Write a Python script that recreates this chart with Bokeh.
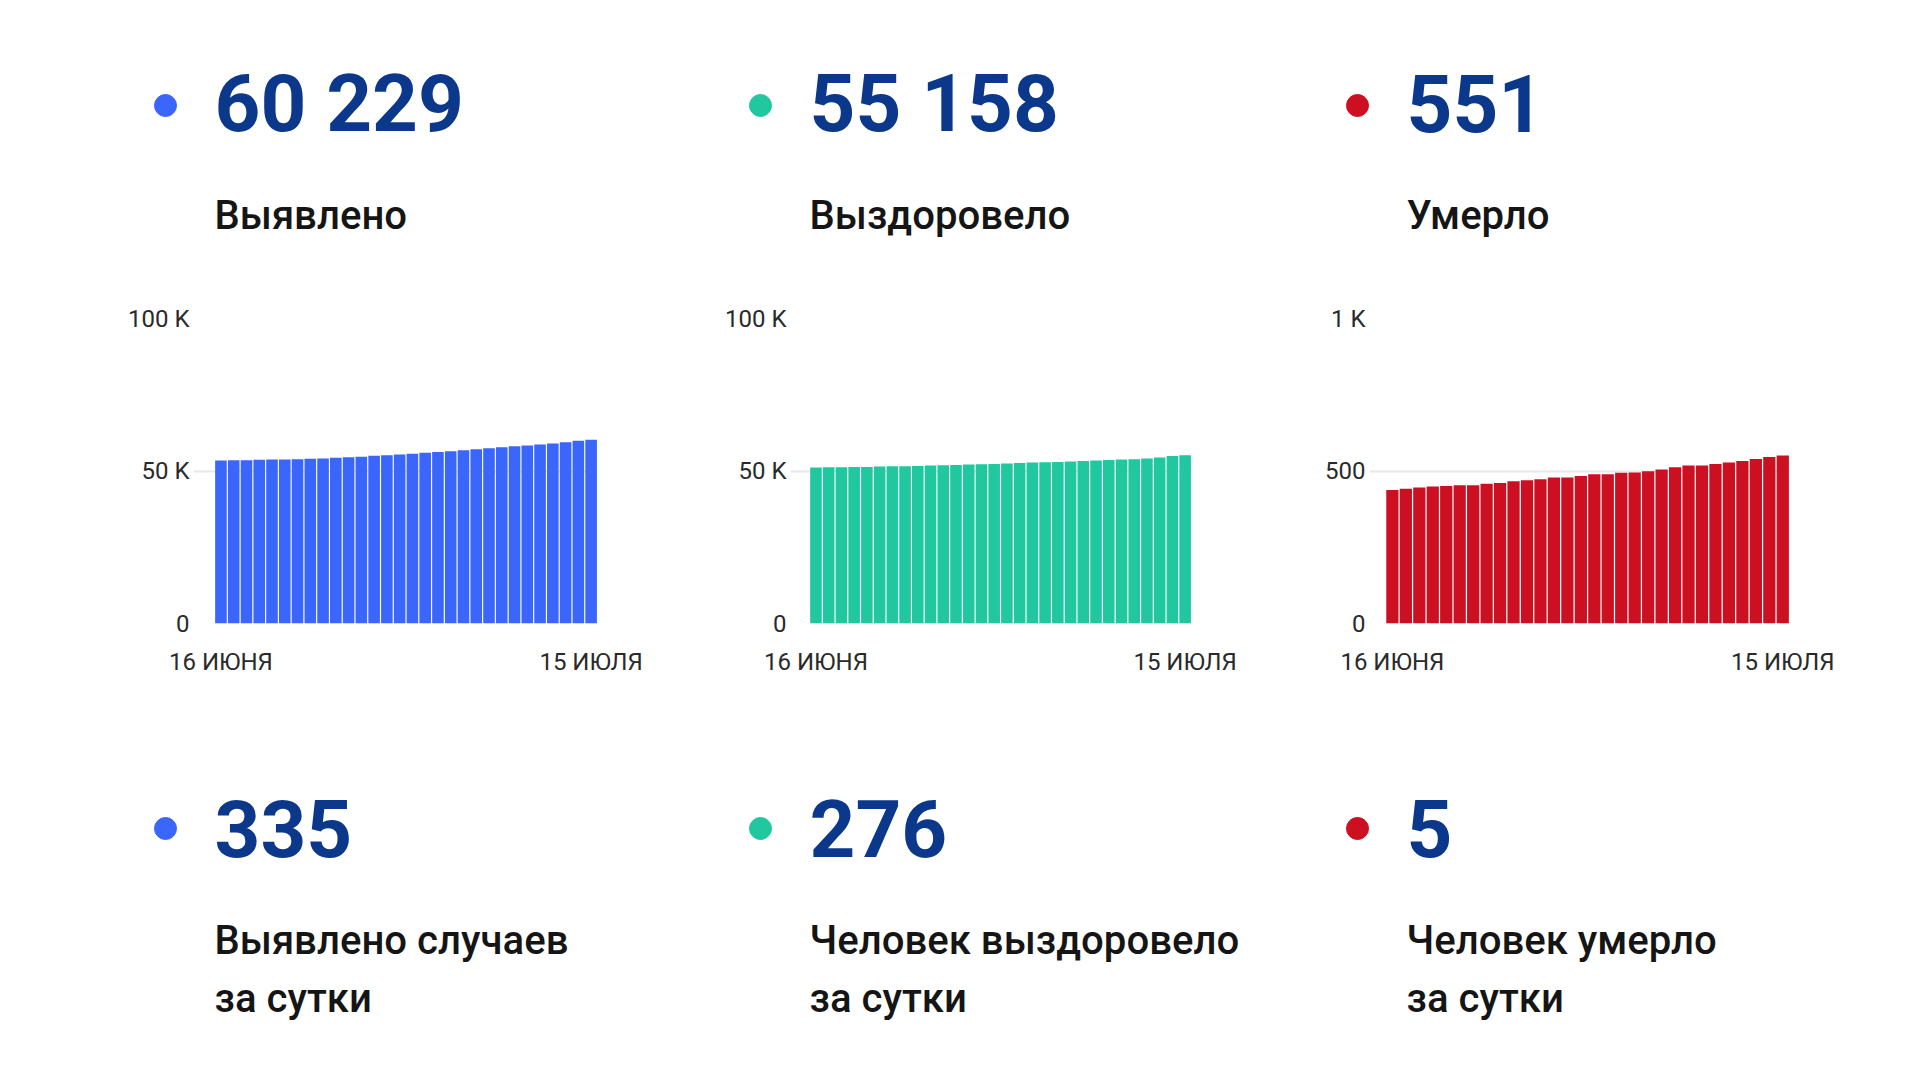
from bokeh.plotting import figure
from bokeh.layouts import column, row
from bokeh.models import Range1d, FixedTicker, Spacer, ColumnDataSource
from bokeh.core.properties import value
from bokeh.embed import file_html
from bokeh.resources import INLINE

# ---------------- data ----------------
days = list(range(30))  # 16 June .. 15 July
x_tick_labels = {0: "16 ИЮНЯ", 29: "15 ИЮЛЯ"}

detected = [53450, 53560, 53560, 53670, 53780, 53780, 53890, 54000, 54110, 54330,
            54545, 54655, 54980, 55200, 55420, 55640, 55970, 56190, 56510, 56840,
            57170, 57500, 57820, 58150, 58370, 58700, 58980, 59400, 59894, 60229]
recovered = [51110, 51220, 51220, 51330, 51330, 51440, 51550, 51550, 51660, 51770,
             51880, 51990, 52100, 52210, 52320, 52430, 52640, 52750, 52860, 52970,
             53080, 53300, 53410, 53630, 53740, 53850, 54070, 54400, 54882, 55158]
deaths = [438, 442, 446, 449, 451, 453, 453, 458, 461, 466,
          470, 473, 479, 479, 484, 489, 489, 494, 495, 499,
          505, 512, 518, 518, 523, 528, 533, 539, 546, 551]

totals = ["60 229", "55 158", "551"]
total_labels = ["Выявлено", "Выздоровело", "Умерло"]
daily = ["335", "276", "5"]
daily_labels_1 = ["Выявлено случаев", "Человек выздоровело", "Человек умерло"]
daily_labels_2 = ["за сутки", "за сутки", "за сутки"]

y_ticks_big = [0, 50000, 100000]
y_labels_big = {0: "0", 50000: "50 K", 100000: "100 K"}
y_ticks_small = [0, 500, 1000]
y_labels_small = {0: "0", 500: "500", 1000: "1 K"}

# ---------------- style ----------------
colors = ["#3b66fb", "#21c79f", "#cc1022"]
num_color = "#0c388c"
label_color = "#151515"
FONT = "Roboto"
NUM_SIZE = 80
LAB_SIZE = 40

col_dot_x = [165, 760, 1357]
col_text_x = [214, 809, 1406]


def text_fig(h, y_top):
    p = figure(width=1920, height=h, x_range=Range1d(0, 1920),
               y_range=Range1d(y_top + h, y_top), toolbar_location=None,
               output_backend="svg", min_border=0, title=None)
    p.axis.visible = False
    p.grid.visible = False
    p.outline_line_color = None
    p.background_fill_color = "white"
    p.border_fill_color = "white"
    return p


def num_text(p, y, texts):
    p.text(x=col_text_x, y=[y - 0.36 * NUM_SIZE] * 3, text=texts, text_font=value(FONT),
           text_font_style="bold", text_font_size=f"{NUM_SIZE}px", text_color=num_color,
           text_baseline="alphabetic", text_align="left")


def lab_text(p, y, texts):
    p.text(x=col_text_x, y=[y - 0.33 * LAB_SIZE] * 3, text=texts,
           text_font=value("Roboto Medium"), text_font_size=f"{LAB_SIZE}px",
           text_color=label_color, text_baseline="alphabetic", text_align="left")


# top text block
top = text_fig(290, 0)
top.scatter(x=col_dot_x, y=[105] * 3, size=22, color=colors)
num_text(top, 132, totals)
lab_text(top, 228, total_labels)

# bottom text block
bot = text_fig(390, 690)
bot.scatter(x=col_dot_x, y=[828] * 3, size=22, color=colors)
num_text(bot, 857, daily)
lab_text(bot, 953, daily_labels_1)
lab_text(bot, 1011, daily_labels_2)


def bar_chart(vals, color, yticks, ylabels, ymax, width, mbl, mbr, pad):
    p = figure(width=width, height=400, x_range=Range1d(-0.5 - pad, 29.5),
               y_range=Range1d(0, ymax), toolbar_location=None, output_backend="svg",
               min_border_left=mbl, min_border_right=mbr, min_border_top=28,
               min_border_bottom=67, title=None)
    src = ColumnDataSource(dict(x=days, y=vals))
    p.vbar(x="x", top="y", width=0.91, bottom=0, source=src, fill_color=color,
           line_color=None)
    p.outline_line_color = None
    p.background_fill_color = "white"
    p.border_fill_color = "white"
    p.xgrid.visible = False
    p.ygrid.grid_line_color = "#e8e8e8"
    p.ygrid.grid_line_width = 2
    p.yaxis.ticker = FixedTicker(ticks=yticks)
    p.yaxis.major_label_overrides = ylabels
    p.xaxis.ticker = FixedTicker(ticks=[0, 29])
    p.xaxis.major_label_overrides = x_tick_labels
    for ax in (p.xaxis, p.yaxis):
        ax.axis_line_color = None
        ax.major_tick_line_color = None
        ax.minor_tick_line_color = None
        ax.major_tick_out = 0
        ax.major_tick_in = 0
        ax.major_label_text_font = FONT
        ax.major_label_text_font_size = "24px"
        ax.major_label_text_color = "#2a2a2a"
    p.yaxis.major_label_standoff = 4
    p.xaxis.major_label_standoff = 24
    return p


c1 = bar_chart(detected, colors[0], y_ticks_big, y_labels_big, 100000, 560, 93, 63, 1.65)
c2 = bar_chart(recovered, colors[1], y_ticks_big, y_labels_big, 100000, 600, 130, 69, 1.5)
c3 = bar_chart(deaths, colors[2], y_ticks_small, y_labels_small, 1000, 600, 109, 71, 1.2)

charts = row(Spacer(width=100, height=400), c1, c2, c3, Spacer(width=60, height=400))
layout = column(top, charts, bot)

open("out.html", "w").write(file_html(layout, INLINE))
